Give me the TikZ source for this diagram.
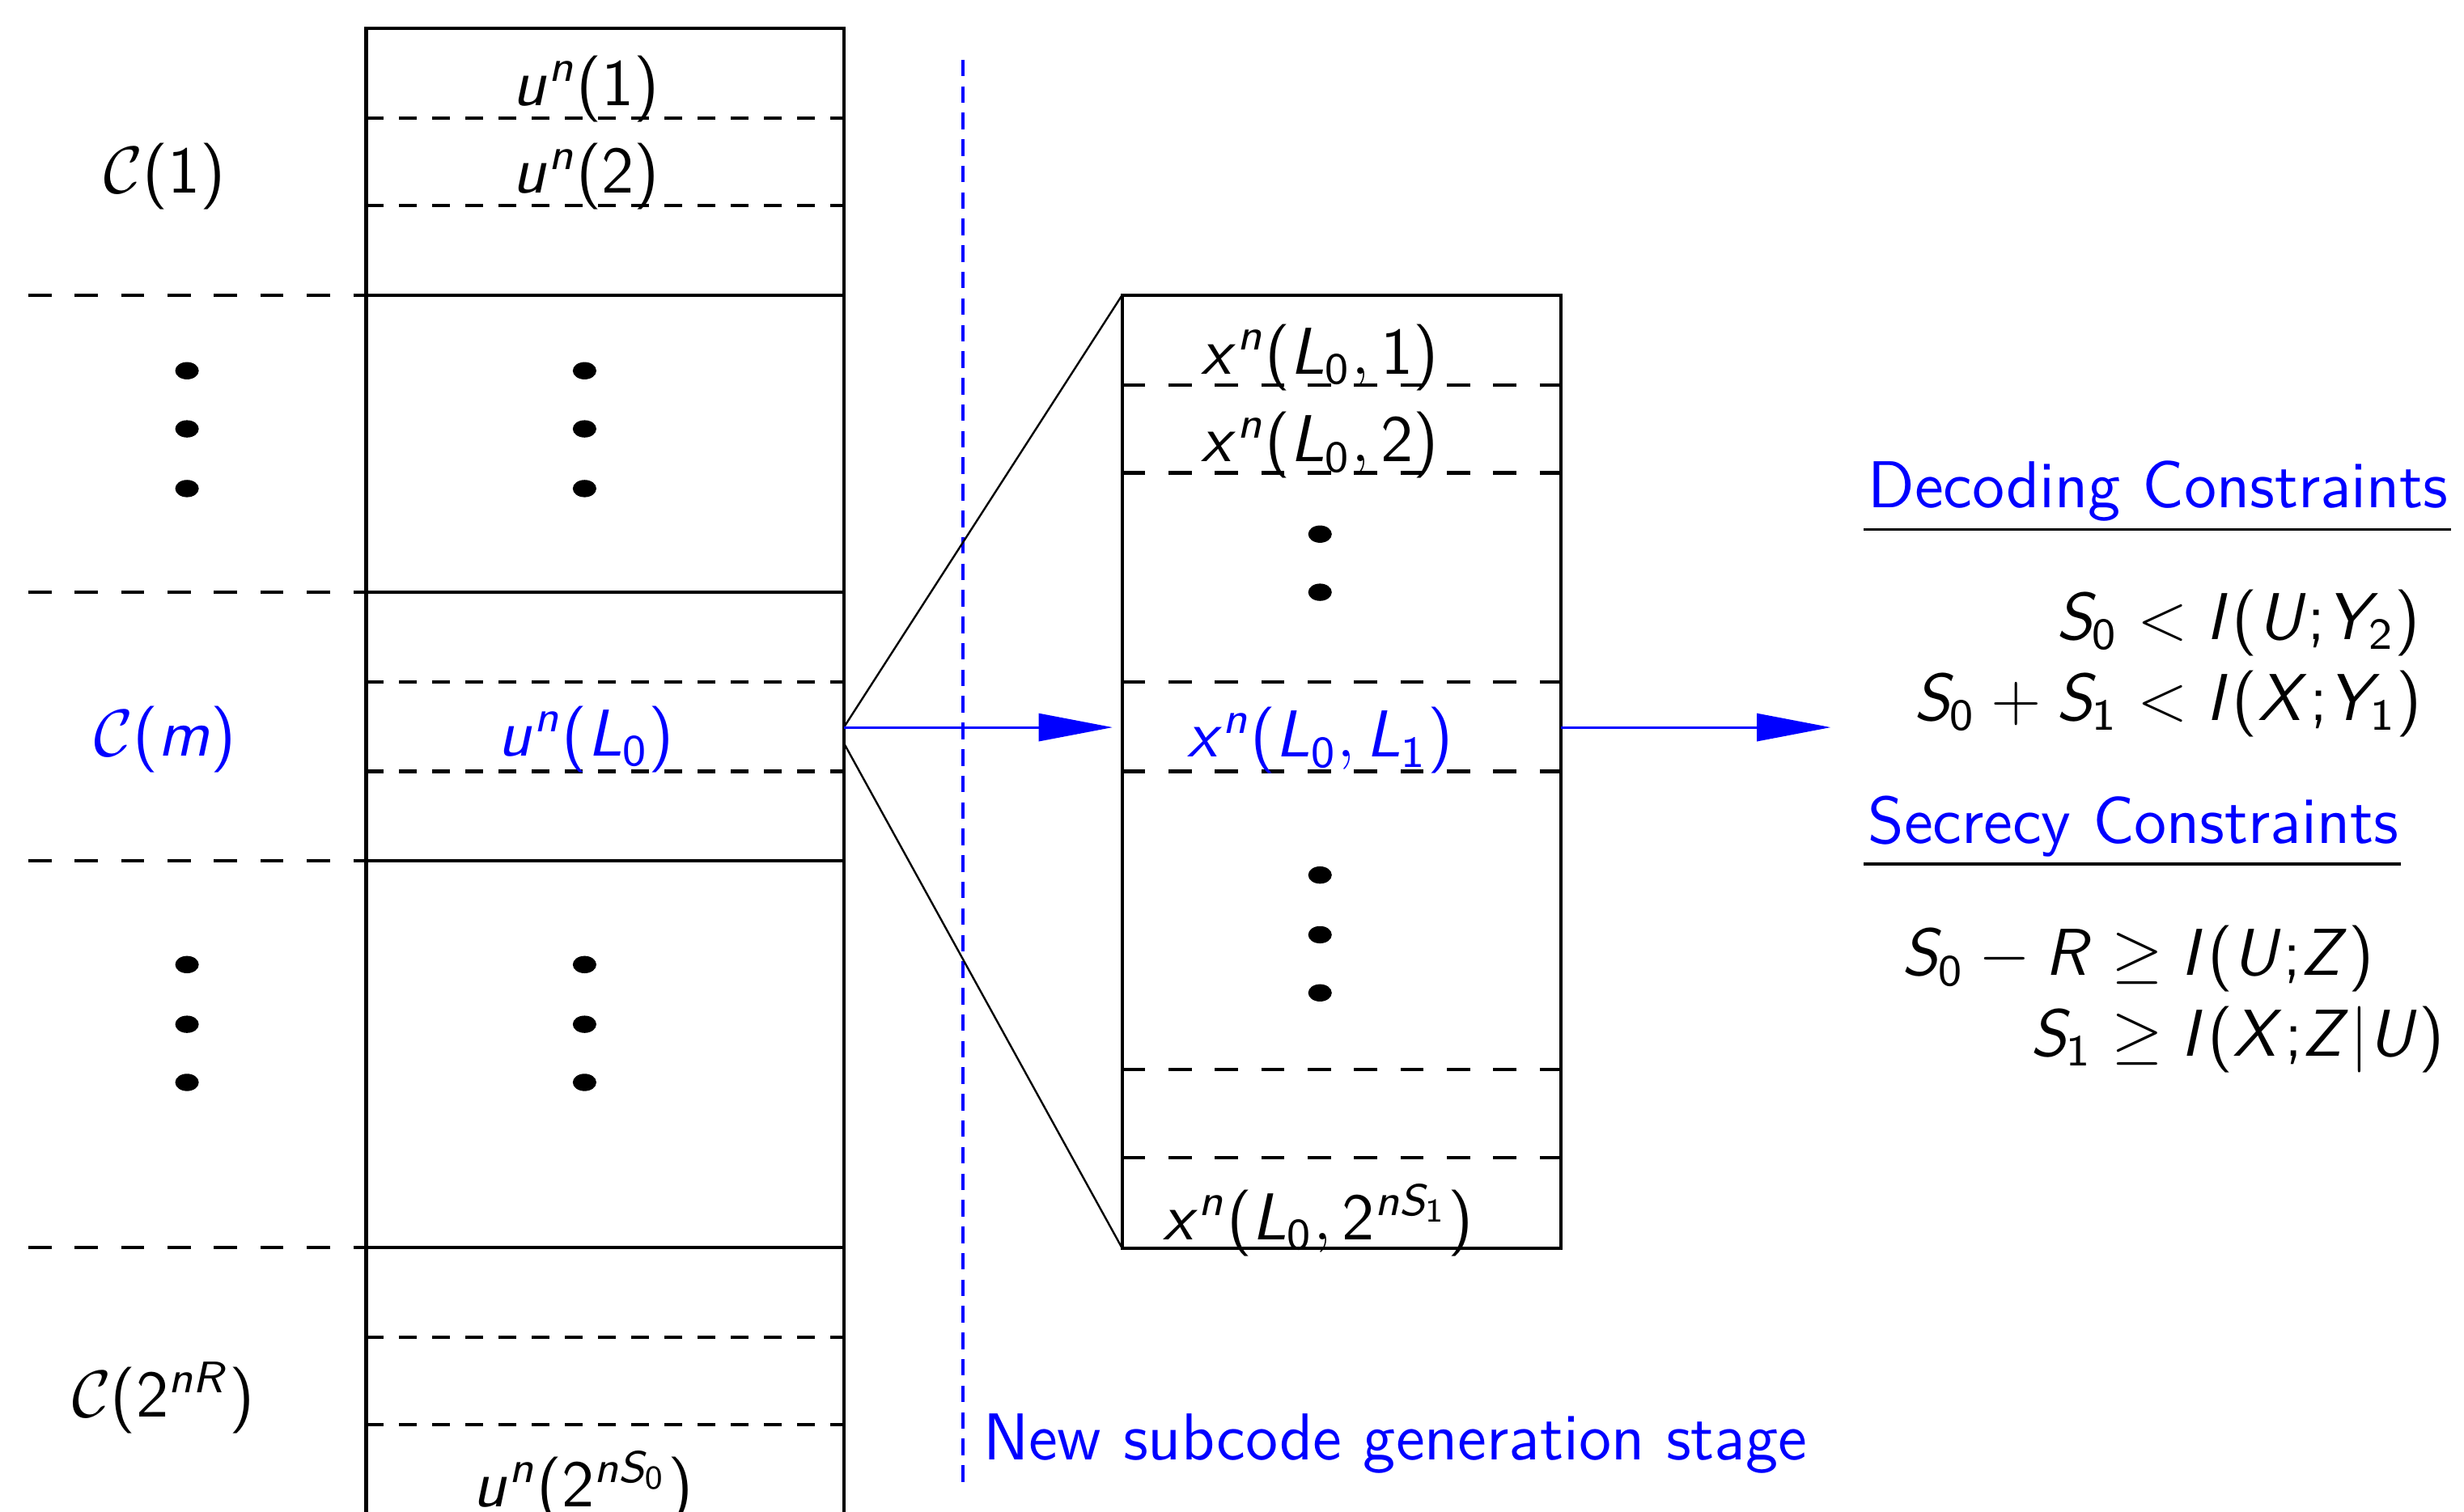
\documentclass[tikz,border=0pt]{standalone}
\usetikzlibrary{arrows.meta, positioning, calc}

% sans serif math: cmss for digits and punctuation, slanted cmss for letters
\SetSymbolFont{operators}{normal}{OT1}{cmss}{m}{n}
\DeclareSymbolFont{sfletters}{OT1}{cmss}{m}{sl}
\newcommand{\sfletter}[1]{\DeclareMathSymbol{#1}{\mathalpha}{sfletters}{`#1}}
\sfletter{u}\sfletter{n}\sfletter{x}\sfletter{m}
\sfletter{L}\sfletter{S}\sfletter{R}\sfletter{I}
\sfletter{U}\sfletter{X}\sfletter{Y}\sfletter{Z}
\mathcode`\;="003B

\tikzset{
  frame/.style={draw, line width=0.6pt, inner sep=0pt, outer sep=0pt},
  rowsep/.style={line width=0.6pt, dash pattern=on 3.2pt off 2.8pt},
  subsep/.style={line width=0.6pt, dash pattern=on 4.2pt off 4.2pt},
  stagesep/.style={blue, line width=0.6pt, dash pattern=on 3pt off 1.8pt},
  flow/.style={blue, line width=0.45pt, -{Triangle[length=0.47cm, width=0.175cm]}},
  rule/.style={line width=0.5pt},
  lbl/.style={anchor=base, inner sep=0pt},
}

\begin{document}
\begin{tikzpicture}[x=0.01cm, y=-0.01cm, font=\fontsize{12}{14.6}\selectfont\sffamily]
    \useasboundingbox (0,0) rectangle (1568,962);
    \clip (0,0) rectangle (1568,962);
    % Codebook column
    \node[frame, anchor=north west, minimum width=3.04cm, minimum height=9.8cm] (ubox) at (233,18) {};
    \foreach \y in {188,377,548,794} {
      \draw[subsep] (18,\y) -- (233,\y);
      \draw[line width=0.6pt] (233,\y) -- (537,\y);
    }
    \foreach \y in {75,131,434,491,851,907}
      \draw[rowsep] (233,\y) -- (537,\y);
    % Codebook labels
    \node[lbl] (c1) at (105,123) {$\mathcal{C}(1)$};
    \node[lbl] (u1) at (373,67) {$u^n(1)$};
    \node[lbl] (u2) at (373,123) {$u^n(2)$};
    \node[lbl, blue] (cm) at (105,481) {$\mathcal{C}(m)$};
    \node[lbl, blue] (uL) at (373,481) {$u^n(L_0)$};
    \node[lbl] (cR) at (104,902) {$\mathcal{C}(2^{nR})$};
    \node[lbl] (uS) at (371,959) {$u^n(2^{nS_0})$};
    % Dots
    \foreach \y in {236,273,311,614,652,689} {
      \fill (119,\y) ellipse (0.075cm and 0.055cm);
      \fill (372,\y) ellipse (0.075cm and 0.055cm);
    }
    \foreach \y in {340,377,557,595,632}
      \fill (840,\y) ellipse (0.075cm and 0.055cm);
    % Stage separator
    \draw[stagesep] (613,38) -- (613,945);
    \node[lbl, anchor=base west, blue] (stage) at (625,929) {New subcode generation stage};
    % Subcode column
    \foreach \y in {245,301,434,491,681,737}
      \draw[subsep] (714,\y) -- (993,\y);
    \node[frame, anchor=north west, minimum width=2.79cm, minimum height=6.06cm] (xbox) at (714,188) {};
    \node[lbl] (x1) at (840,238) {$x^n(L_0,1)$};
    \node[lbl] (x2) at (840,294) {$x^n(L_0,2)$};
    \node[lbl, blue] (xL) at (840,482) {$x^n(L_0,L_1)$};
    \node[lbl] (xS) at (839,789) {$x^n(L_0,2^{nS_1})$};
    % Zoom lines and arrows
    \coordinate (split) at (537,463);
    \coordinate (split2) at (537,473);
    \coordinate (tip) at (1165,463);
    \draw[line width=0.35pt] (split) -- (xbox.north west);
    \draw[line width=0.35pt] (split2) -- (xbox.south west);
    \draw[flow, shorten >=1.7pt] (split) -- (split -| xbox.west);
    \draw[flow] (split -| xbox.east) -- (tip);
    % Constraints
    \node[lbl, anchor=base west, blue] (dechead) at (1188,323) {Decoding Constraints};
    \draw[rule] ($(dechead.base west)+(-2,14)$) -- ($(dechead.base east)+(1,14)$);
    \node[anchor=base east, inner sep=0pt] (deceq) at (1542,407) {\begin{tabular}[t]{@{}r@{}l@{}}
      $S_0$ & ${}<I(U;Y_2)$\\
      $S_0+S_1$ & ${}<I(X;Y_1)$
    \end{tabular}};
    \node[lbl, anchor=base west, blue] (sechead) at (1188,537) {Secrecy Constraints};
    \draw[rule] ($(sechead.base west)+(-2,13)$) -- ($(sechead.base east)+(1,13)$);
    \node[anchor=base east, inner sep=0pt] (seceq) at (1556,621) {\begin{tabular}[t]{@{}r@{}l@{}}
      $S_0-R$ & ${}\geq I(U;Z)$\\
      $S_1$ & ${}\geq I(X;Z|U)$
    \end{tabular}};
\end{tikzpicture}
\end{document}
